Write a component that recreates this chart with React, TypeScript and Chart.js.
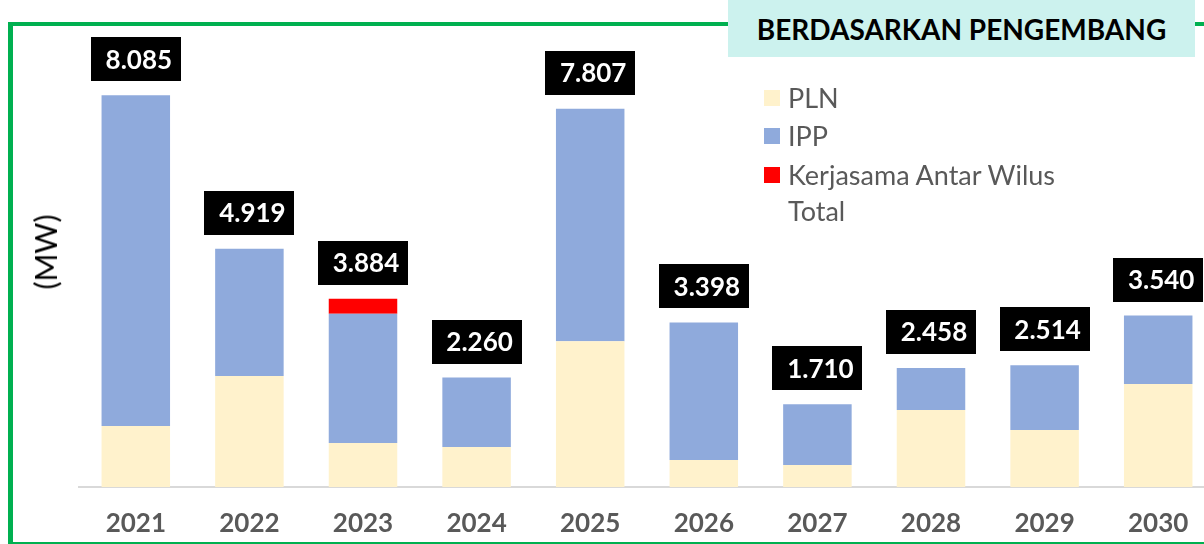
import React, { useEffect, useRef } from "react";
import { Chart, registerables } from "chart.js";

Chart.register(...registerables);

// ---- Data ----
const years = ["2021", "2022", "2023", "2024", "2025", "2026", "2027", "2028", "2029", "2030"];
const plnValues = [1258, 2289, 907, 825, 3011, 557, 454, 1588, 1175, 2124];
const ippValues = [6827, 2630, 2668, 1435, 4796, 2841, 1256, 870, 1339, 1416];
const kawValues = [0, 0, 309, 0, 0, 0, 0, 0, 0, 0];
const totalValues = [8085, 4919, 3884, 2260, 7807, 3398, 1710, 2458, 2514, 3540];
const seriesNames = ["PLN", "IPP", "Kerjasama Antar Wilus", "Total"];
const seriesColors = ["#FFF2CC", "#8FAADC", "#FF0000", ""];
const chartTitle = "BERDASARKAN PENGEMBANG";
const yAxisTitle = "(MW)";

const FONT = "Lato, 'Open Sans', sans-serif";

function fmtThousands(v: number): string {
  const th = Math.floor(v / 1000);
  const rest = v % 1000;
  return th > 0 ? `${th}.${String(rest).padStart(3, "0")}` : String(rest);
}

const totalLabelPlugin = {
  id: "totalLabels",
  afterDatasetsDraw(chart: any) {
    const { ctx } = chart;
    const x = chart.scales.x;
    const y = chart.scales.y;
    ctx.save();
    totalValues.forEach((v, i) => {
      const cx = x.getPixelForValue(i);
      const top = y.getPixelForValue(v);
      const w = 90;
      const h = 44;
      const bottom = top - 14;
      ctx.fillStyle = "#000000";
      ctx.fillRect(Math.round(cx - w / 2), Math.round(bottom - h), w, h);
      ctx.fillStyle = "#FFFFFF";
      ctx.font = `bold 26px ${FONT}`;
      ctx.textAlign = "center";
      ctx.textBaseline = "middle";
      ctx.fillText(fmtThousands(v), cx + 3, bottom - h / 2 + 1);
    });
    ctx.restore();
  },
};

function BarChart() {
  const ref = useRef<HTMLCanvasElement | null>(null);
  useEffect(() => {
    if (!ref.current) return;
    const chart = new Chart(ref.current, {
      type: "bar",
      data: {
        labels: years,
        datasets: [
          { label: seriesNames[0], data: plnValues, backgroundColor: seriesColors[0], barPercentage: 0.603, categoryPercentage: 1 },
          { label: seriesNames[1], data: ippValues, backgroundColor: seriesColors[1], barPercentage: 0.603, categoryPercentage: 1 },
          { label: seriesNames[2], data: kawValues, backgroundColor: seriesColors[2], barPercentage: 0.603, categoryPercentage: 1 },
        ],
      },
      options: {
        responsive: false,
        animation: false,
        layout: { padding: { left: 79, top: 51, right: 0, bottom: 0 } },
        plugins: {
          legend: { display: false },
          tooltip: { enabled: false },
        },
        scales: {
          x: {
            stacked: true,
            grid: { display: false, drawTicks: false },
            border: { display: true, color: "#D9D9D9", width: 2 },
            ticks: {
              color: "#595959",
              font: { family: FONT, size: 26, weight: "bold" },
              padding: 21,
            },
            afterFit: (s: any) => {
              s.height = 57;
            },
          },
          y: {
            stacked: true,
            display: false,
            min: 0,
            max: 9000,
          },
        },
      },
      plugins: [totalLabelPlugin],
    } as any);
    return () => chart.destroy();
  }, []);
  return <canvas ref={ref} width={1215} height={544} style={{ display: "block", position: "absolute", left: 0, top: 0 }} />;
}

export default function App() {
  const legendRows = [
    { name: seriesNames[0], color: seriesColors[0], cy: 98 },
    { name: seriesNames[1], color: seriesColors[1], cy: 136 },
    { name: seriesNames[2], color: seriesColors[2], cy: 175 },
    { name: seriesNames[3], color: "", cy: 211 },
  ];
  return (
    <div
      style={{
        position: "absolute",
        left: 0,
        top: 0,
        width: 1204,
        height: 544,
        overflow: "hidden",
        background: "#FFFFFF",
        fontFamily: FONT,
      }}
    >
      {/* green frame */}
      <div
        style={{
          position: "absolute",
          left: 8,
          top: 22,
          width: 1260,
          height: 524,
          boxSizing: "border-box",
          borderLeft: "5px solid #00B050",
          borderTop: "4px solid #00B050",
          borderBottom: "4px solid #00B050",
        }}
      />
      <BarChart />
      {/* title box */}
      <div
        style={{
          position: "absolute",
          left: 728,
          top: 0,
          width: 467,
          height: 57,
          background: "#CCF2EE",
          color: "#000000",
          fontWeight: "bold",
          fontSize: 28,
          display: "flex",
          alignItems: "center",
          justifyContent: "center",
          whiteSpace: "nowrap",
        }}
      >
        {chartTitle}
      </div>
      {/* legend */}
      {legendRows.map((r) => (
        <div
          key={r.name}
          style={{
            position: "absolute",
            left: 764,
            top: r.cy - 15,
            height: 30,
            display: "flex",
            alignItems: "center",
            whiteSpace: "nowrap",
          }}
        >
          <div style={{ width: 16, height: 16, background: r.color || "transparent", marginRight: 8 }} />
          <span style={{ fontSize: 27, color: "#595959", lineHeight: "30px" }}>{r.name}</span>
        </div>
      ))}
      {/* y axis title */}
      <div
        style={{
          position: "absolute",
          left: 45,
          top: 252,
          transform: "translate(-50%, -50%) rotate(-90deg)",
          fontSize: 30,
          color: "#000000",
          whiteSpace: "nowrap",
          lineHeight: "34px",
        }}
      >
        {yAxisTitle}
      </div>
    </div>
  );
}
